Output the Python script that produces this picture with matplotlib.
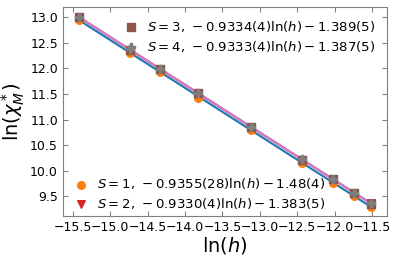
import numpy as np
import matplotlib
matplotlib.use("Agg")
import matplotlib.pyplot as plt

# ln(h) values of the field points
lnh = [-15.42, -14.73, -14.33, -13.82, -13.12, -12.43, -12.02, -11.74, -11.51]

s1 = [12.95, 12.31, 11.93, 11.43, 10.79, 10.15, 9.76, 9.50, 9.29]
s2 = [13.00, 12.36, 11.99, 11.51, 10.86, 10.21, 9.83, 9.57, 9.36]
s3 = [13.00, 12.36, 11.99, 11.51, 10.86, 10.21, 9.83, 9.57, 9.35]
s4 = [13.01, 12.37, 11.99, 11.52, 10.86, 10.22, 9.84, 9.57, 9.36]

slopes = [-0.9355, -0.9330, -0.9334, -0.9333]
icepts = [-1.48, -1.383, -1.389, -1.387]
labels = [r"$S=1,\,-0.9355(28)\ln(h)-1.48(4)$",
          r"$S=2,\,-0.9330(4)\ln(h)-1.383(5)$",
          r"$S=3,\,-0.9334(4)\ln(h)-1.389(5)$",
          r"$S=4,\,-0.9333(4)\ln(h)-1.387(5)$"]

fig, ax = plt.subplots(figsize=(3.98, 2.61), dpi=100)
fig.subplots_adjust(left=0.158, right=0.972, top=0.973, bottom=0.172)

data = [s1, s2, s3, s4]
markers = ['o', 'v', 's', 'P']
x = np.array(lnh)
handles = []
for k in range(4):
    ax.plot(x, slopes[k]*x + icepts[k], color="C%d" % (2*k), lw=1.5, zorder=2)
    h = ax.scatter(x, data[k], marker=markers[k], color="C%d" % (2*k+1), s=30, zorder=3, label=labels[k])
    handles.append(h)

leg1 = ax.legend(handles=handles[2:], loc='upper right', frameon=False, fontsize=9.5,
                 handletextpad=0.2, borderaxespad=0.5, labelspacing=0.35)
ax.add_artist(leg1)
ax.legend(handles=handles[:2], loc='lower left', frameon=False, fontsize=9.5,
          handletextpad=0.2, borderaxespad=0.0, labelspacing=0.35)

ax.set_xlim(-15.634, -11.30)
ax.set_ylim(9.11, 13.2)
ax.set_xticks(np.arange(-15.5, -11.4, 0.5))
ax.set_yticks(np.arange(9.5, 13.1, 0.5))
ax.tick_params(direction='in', top=True, right=True, labelsize=9, color='gray')
for sp in ax.spines.values():
    sp.set_color('gray')
ax.set_xlabel(r"ln($h$)", fontsize=14, labelpad=1)
ax.set_ylabel(r"ln($\chi_M^*$)", fontsize=14, labelpad=2)

fig.savefig("out.png", dpi=100)
